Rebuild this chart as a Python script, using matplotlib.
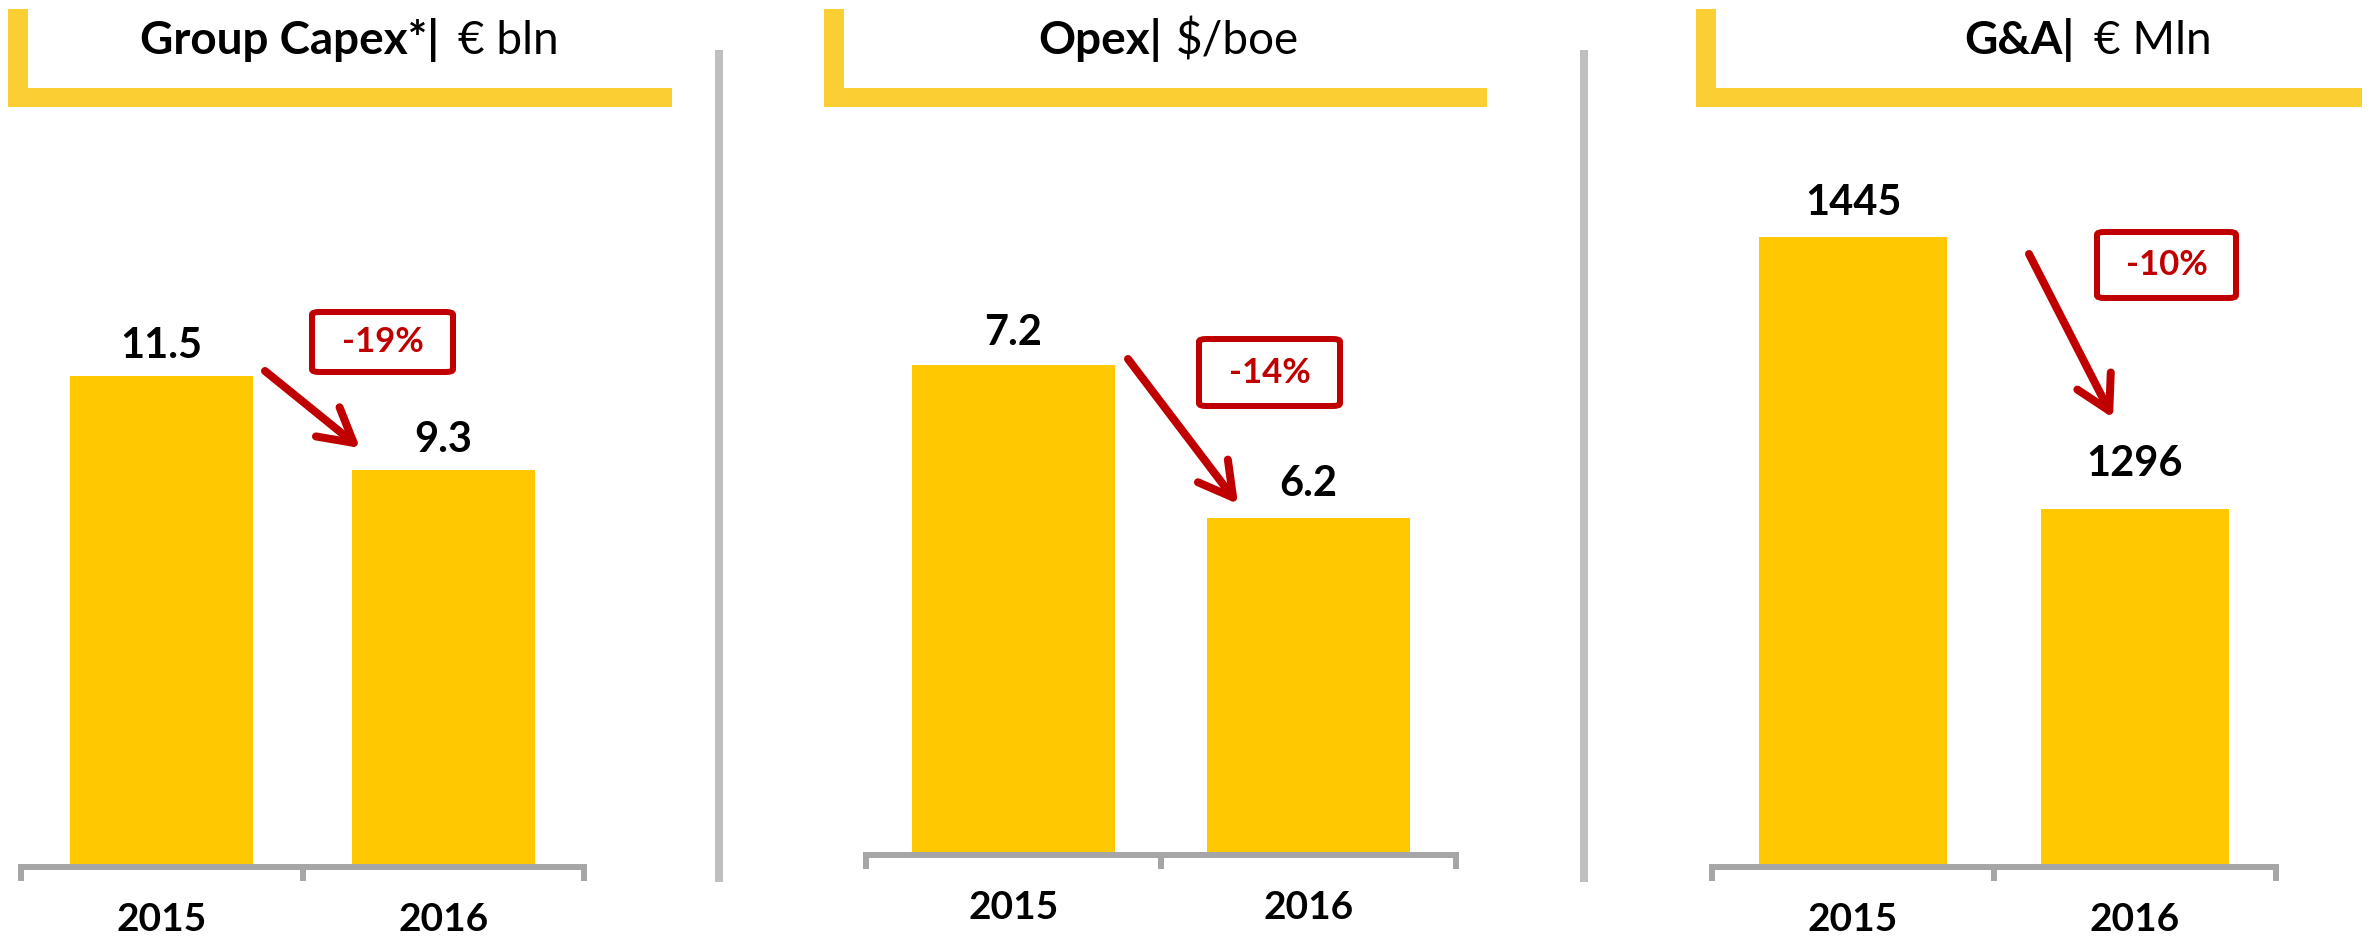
import matplotlib
matplotlib.use('Agg')
import matplotlib.pyplot as plt
from matplotlib.patches import Rectangle, FancyBboxPatch, FancyArrowPatch
from matplotlib.lines import Line2D

plt.rcParams['font.family'] = ['Lato', 'DejaVu Sans']

# ---------------- data ----------------
years = ['2015', '2016']
capex_values = [11.5, 9.3]
opex_values = [7.2, 6.2]
ga_values = [1445, 1296]
capex_labels = ['11.5', '9.3']
opex_labels = ['7.2', '6.2']
ga_labels = ['1445', '1296']
change_labels = ['-19%', '-14%', '-10%']
titles_bold = ['Group Capex*|', 'Opex|', 'G&A|']
titles_unit = ['€ bln', '$/boe', '€ Mln']

# ---------------- style ----------------
W, H = 2374, 938
BAR = '#FFC800'
HEAD = '#FBCF33'
AXIS = '#A6A6A6'
SEP = '#BFBFBF'
RED = '#C00000'
PX = 72 / 100  # points per pixel at dpi 100

fig = plt.figure(figsize=(W / 100, H / 100), dpi=100)


def fx(x):
    return x / W


def fy(y):
    return 1 - y / H


panels = [
    dict(values=capex_values, labels=capex_labels, ax=(21, 584, 100, 867), ylim=(0, 17.96), width=0.65,
         offs=(8, 7.5), head=(8, 672), split=(439, 458), box=(312, 453, 312, 372),
         arrow=((265, 371), (360, 448))),
    dict(values=opex_values, labels=opex_labels, ax=(866, 1456, 100, 855), ylim=(4.0, 8.93), width=0.69,
         offs=(9, 11), head=(824, 1487), split=(1162, 1176), box=(1199, 1340, 339, 406),
         arrow=((1128, 359), (1238, 504))),
    dict(values=ga_values, labels=ga_labels, ax=(1712, 2276, 100, 867), ylim=(1100, 1520), width=0.67,
         offs=(11, 19), head=(1696, 2362), split=(2074, 2094), box=(2097, 2236, 232, 298),
         arrow=((2029, 254), (2113, 418))),
]

for i, p in enumerate(panels):
    x0, x1, yt, yb = p['ax']
    ax = fig.add_axes([fx(x0), fy(yb), (x1 - x0) / W, (yb - yt) / H])
    xs = list(range(len(years)))
    ax.bar(xs, p['values'], width=p['width'], color=BAR, zorder=1)
    ax.set_xlim(-0.5, 1.5)
    ax.set_ylim(*p['ylim'])
    for s in ['top', 'left', 'right']:
        ax.spines[s].set_visible(False)
    ax.spines['bottom'].set_color(AXIS)
    ax.spines['bottom'].set_linewidth(6 * PX)
    ax.spines['bottom'].set_zorder(3)
    ax.set_yticks([])
    ax.set_xticks(xs)
    ax.set_xticklabels(years, fontsize=28, fontweight='bold', color='black')
    ax.tick_params(axis='x', which='major', length=0, pad=25)
    ax.set_xticks([-0.5, 0.5, 1.5], minor=True)
    ax.tick_params(axis='x', which='minor', length=14 * PX, width=6 * PX, color=AXIS, direction='out')
    for xi, v, lab, off in zip(xs, p['values'], p['labels'], p['offs']):
        ax.annotate(lab, xy=(xi, v), xytext=(0, off), textcoords='offset points',
                    ha='center', va='bottom', fontsize=30, fontweight='bold', color='black')

    # header L shape
    hx0, hx1 = p['head']
    fig.add_artist(Rectangle((fx(hx0), fy(107)), (28 - 8) / W, (107 - 9) / H,
                             transform=fig.transFigure, color=HEAD, lw=0))
    fig.add_artist(Rectangle((fx(hx0), fy(107)), (hx1 - hx0) / W, (107 - 88) / H,
                             transform=fig.transFigure, color=HEAD, lw=0))
    sx0, sx1 = p['split']
    fig.text(fx(sx0), fy(54), titles_bold[i], ha='right', va='baseline', fontsize=33,
             fontweight='bold', color='black')
    fig.text(fx(sx1), fy(54), titles_unit[i], ha='left', va='baseline', fontsize=33,
             fontweight='normal', color='black')

    # change box
    bx0, bx1, by0, by1 = p['box']
    fig.add_artist(FancyBboxPatch((fx(bx0), fy(by1)), (bx1 - bx0) / W, (by1 - by0) / H,
                                  boxstyle='round,pad=0,rounding_size=0.003',
                                  transform=fig.transFigure, fc='white', ec=RED, lw=6 * PX))
    fig.text(fx((bx0 + bx1) / 2), fy((by0 + by1) / 2), change_labels[i], ha='center', va='center',
             fontsize=25, fontweight='bold', color=RED)

    # arrow
    (ax0, ay0), (ax1, ay1) = p['arrow']
    fig.add_artist(FancyArrowPatch(
        (fx(ax0), fy(ay0)), (fx(ax1), fy(ay1)), transform=fig.transFigure,
        arrowstyle='->,head_length=0.8,head_width=0.45', mutation_scale=30,
        color=RED, lw=8 * PX, capstyle='round', joinstyle='round', shrinkA=0, shrinkB=0))

# separators
for sx in [719, 1584]:
    fig.add_artist(Line2D([fx(sx), fx(sx)], [fy(50), fy(882)], transform=fig.transFigure,
                          color=SEP, lw=8 * PX, solid_capstyle='butt'))

fig.savefig('out.png', dpi=100)
